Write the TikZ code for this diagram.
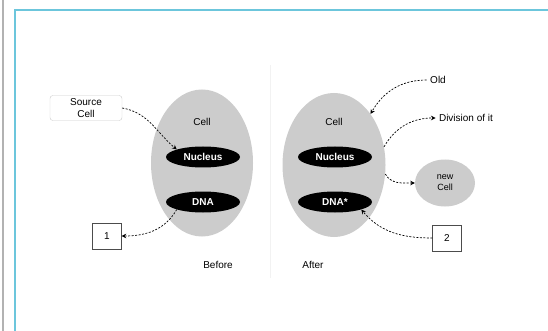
\documentclass[tikz,border=0pt]{standalone}
\usepackage{fontspec}
\setmainfont{Liberation Sans}
\usetikzlibrary{shapes.geometric,arrows.meta}
\begin{document}
\begin{tikzpicture}[x=1pt,y=-1pt,
  cellbody/.style={ellipse, fill=gray!40, inner sep=0pt},
  organelle/.style={ellipse, fill=black, text=white, font=\bfseries, inner sep=0pt, minimum width=74pt, minimum height=21pt},
  lbl/.style={font=\normalsize, align=center},
  boxlbl/.style={font=\normalsize, draw=black!70, line width=0.4pt, minimum width=29pt, minimum height=26pt, inner sep=2pt},
  link/.style={dashed, dash pattern=on 2pt off 1.5pt, line width=0.7pt, -{Stealth[length=4.5pt,width=4.5pt]}}]
\useasboundingbox (0,0) rectangle (548,331);
\draw[gray!60, line width=1.2pt] (3,-2) -- (3,335);
\draw[draw={rgb,255:red,108;green,198;blue,220}, line width=1.6pt] (15,345) -- (15,10) -- (560,10);
\draw[gray!10, line width=0.6pt] (270,65) -- (270,278);
% left cell
\node[cellbody, minimum width=102pt, minimum height=147pt] (lcell) at (202,163) {};
\node[lbl] (ltitle) at (202,122) {Cell};
\node[organelle] (lnuc) at (203,157) {Nucleus};
\node[organelle] (ldna) at (203,202) {DNA};
% right cell
\node[cellbody, minimum width=103pt, minimum height=144pt] (rcell) at (334,165) {};
\node[lbl] (rtitle) at (334,122) {Cell};
\node[organelle] (rnuc) at (335,157) {Nucleus};
\node[organelle] (rdna) at (335,202) {DNA*};
% new cell
\node[cellbody, minimum width=60pt, minimum height=47pt, font=\small, align=center] (newcell) at (445,183) {new\\Cell};
% labels
\node[lbl, draw=gray!40, rounded corners=3pt, line width=0.4pt, inner sep=3pt, minimum width=72pt] (lsrc) at (86,108) {Source\\Cell};
\node[boxlbl] (one) at (107,236) {1};
\node[lbl] (old) at (438,80) {Old};
\node[lbl] (div) at (466,118) {Division of it};
\node[boxlbl] (two) at (447,238) {2};
\node[lbl] (before) at (218,265) {Before};
\node[lbl] (after) at (313,265) {After};
% connectors
\draw[link] (lsrc.east) to[out=-10,in=140] (lnuc.north west);
\draw[link] (ldna.south west) to[out=240,in=0] (one.east);
\draw[link] (old.west) to[out=180,in=60] (rcell.north east);
\draw[link] (rcell.20) to[out=60,in=180] (div.west);
\draw[link] (rcell.-10) to[out=-60,in=180] (newcell.west);
\draw[link] (two.west) to[out=180,in=-50] (rdna.south east);
\end{tikzpicture}
\end{document}
